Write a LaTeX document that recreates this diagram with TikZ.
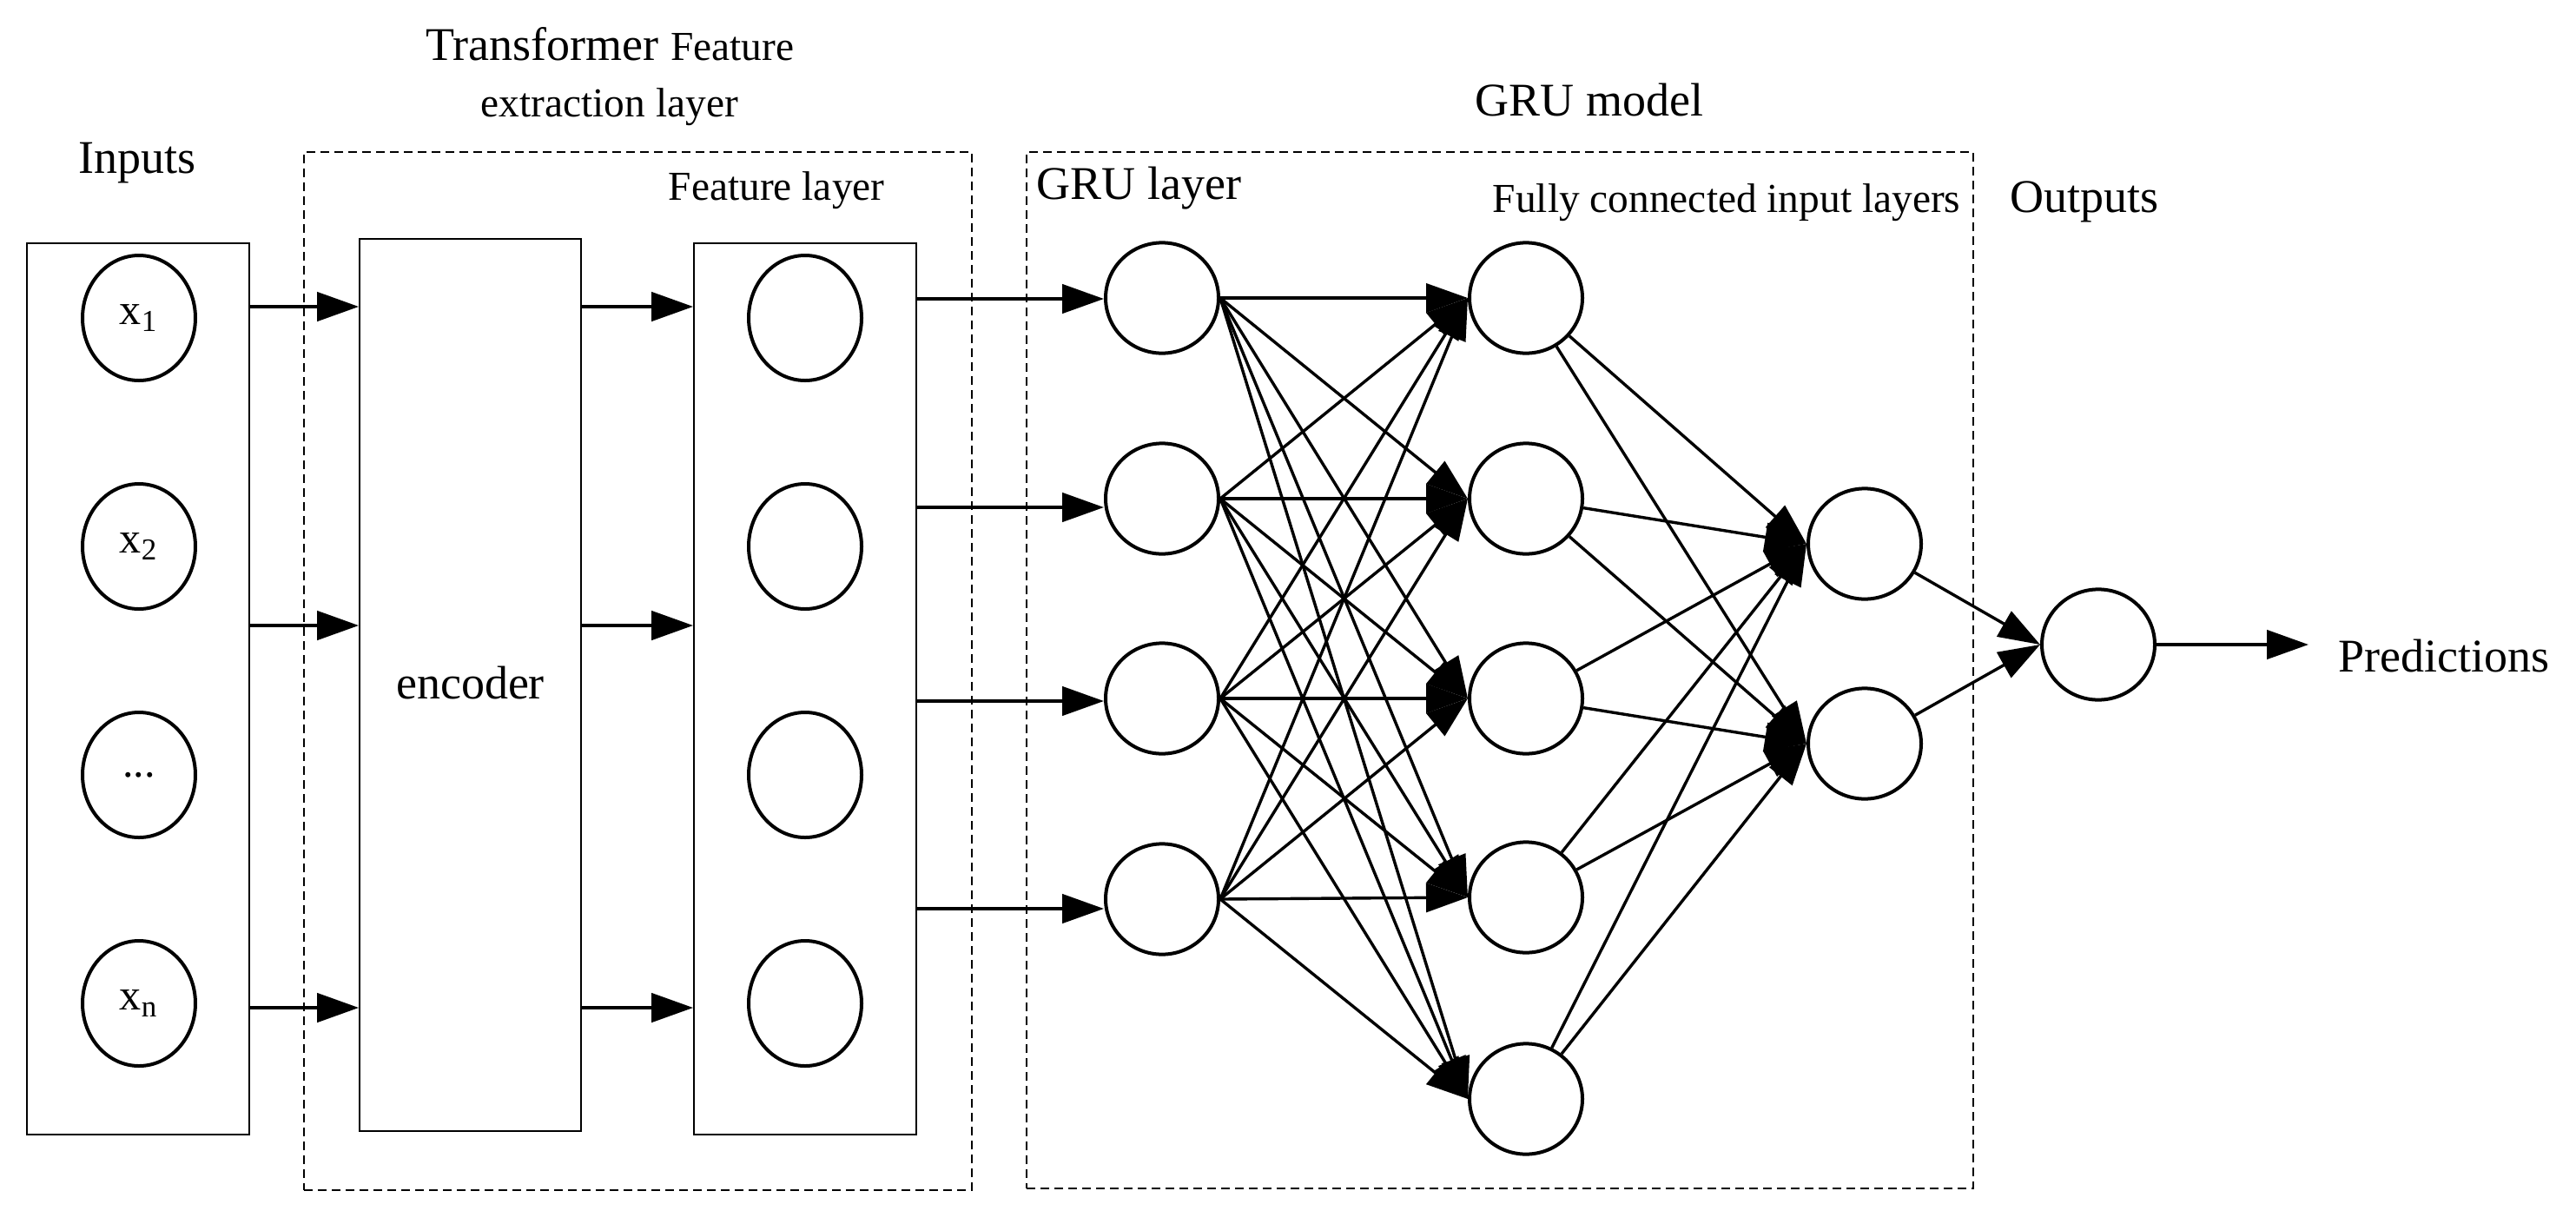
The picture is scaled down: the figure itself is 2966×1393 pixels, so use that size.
\documentclass[tikz,border=0pt]{standalone}
\usepackage{fontspec}
\setmainfont{Liberation Serif}
\usetikzlibrary{arrows.meta,shapes.geometric}
\newcommand\bigf{\fontsize{13.5}{16}\selectfont}
\newcommand\smlf{\fontsize{11.85}{14}\selectfont}
\newcommand\midf{\fontsize{12.5}{15}\selectfont}
\begin{document}
\begin{tikzpicture}[x=0.25pt,y=-0.25pt,
  lbl/.style={inner sep=0pt, anchor=base west},
  ell/.style={ellipse, draw, line width=1pt, fill=white, minimum width=32.5pt, minimum height=36pt, inner sep=0pt, font=\midf},
  neu/.style={ellipse, draw, line width=1pt, fill=white, minimum width=32.5pt, minimum height=31.8pt, inner sep=0pt},
  bx/.style={draw, line width=0.45pt, inner sep=0pt},
  dbox/.style={draw, line width=0.4pt, dash pattern=on 2.5pt off 1.5pt, inner sep=0pt},
  arr/.style={line width=1pt, -{Triangle[length=12pt,width=8.3pt]}},
  arrt/.style={line width=0.85pt, -{Triangle[length=12pt,width=8.3pt]}},
]
\useasboundingbox (0,0) rectangle (2966,1393);

% dashed group boxes
\node[dbox, minimum width=192.25pt, minimum height=298.75pt] (trbox) at (734.5,772.5) {};
\node[dbox, minimum width=272.5pt, minimum height=298.25pt] (grubox) at (1727,771.5) {};

% solid boxes
\node[bx, minimum width=64pt, minimum height=256.5pt] (inbox) at (159,793) {};
\node[bx, minimum width=63.75pt, minimum height=256.75pt] (enc) at (541.5,788.5) {};
\node[bx, minimum width=64pt, minimum height=256.5pt] (fbox) at (927,793) {};
\node[inner sep=0pt, anchor=base, font=\bigf] (enctext) at (541.5,804) {encoder};

% titles
\node[lbl] (ttl) at (490,69) {\bigf Transformer \smlf Feature};
\node[lbl, font=\smlf] (ttl2) at (553,134) {extraction layer};
\node[lbl, font=\bigf] (tin) at (90,199) {Inputs};
\node[lbl, font=\smlf] (tfeat) at (769,230) {Feature layer};
\node[lbl, font=\bigf] (tgru) at (1698,133) {GRU model};
\node[lbl, font=\bigf] (tgrul) at (1193,229) {GRU layer};
\node[lbl, font=\smlf] (tfc) at (1718,244) {Fully connected input layers};
\node[lbl, font=\bigf] (tout) at (2314,244) {Outputs};
\node[lbl, font=\bigf] (pred) at (2692,773) {Predictions};

% input ellipses
\node[ell] (i1) at (160,366) {x\textsubscript{1}};
\node[ell] (i2) at (160,629) {x\textsubscript{2}};
\node[ell] (i3) at (160,892) {...};
\node[ell] (i4) at (160,1155) {x\textsubscript{n}};

% feature ellipses
\node[ell] (f1) at (927,366) {};
\node[ell] (f2) at (927,629) {};
\node[ell] (f3) at (927,892) {};
\node[ell] (f4) at (927,1155) {};

% GRU layer
\node[neu] (g1) at (1338,343) {};
\node[neu] (g2) at (1338,574) {};
\node[neu] (g3) at (1338,804) {};
\node[neu] (g4) at (1338,1035) {};

% fully connected
\node[neu] (c1) at (1757,343) {};
\node[neu] (c2) at (1757,574) {};
\node[neu] (c3) at (1757,804) {};
\node[neu] (c4) at (1757,1033) {};
\node[neu] (c5) at (1757,1265) {};

% outputs
\node[neu] (o1) at (2147,626) {};
\node[neu] (o2) at (2147,856) {};
\node[neu] (fin) at (2416,742) {};

% connectors
\foreach \y in {353,720,1160} {
  \draw[arr] (inbox.east |- 0,\y) -- (enc.west |- 0,\y);
  \draw[arr] (enc.east |- 0,\y) -- (fbox.west |- 0,\y);
}
\foreach \n/\y in {1/344,2/584,3/807,4/1046} {
  \draw[arr] (fbox.east |- 0,\y) -- (g\n.west |- 0,\y);
}
\foreach \a in {1,...,4} {
  \foreach \b in {1,...,5} {
    \draw[arrt] (g\a.east) -- (c\b.west);
  }
}
\foreach \a in {1,...,5} {
  \foreach \b in {1,2} {
    \draw[arrt] (c\a) -- (o\b.west);
  }
}
\draw[arrt] (o1) -- (fin.west);
\draw[arrt] (o2) -- (fin.west);
\draw[arr] (fin.east) -- ([xshift=-8.5pt]pred.west |- fin.east);
\end{tikzpicture}
\end{document}
